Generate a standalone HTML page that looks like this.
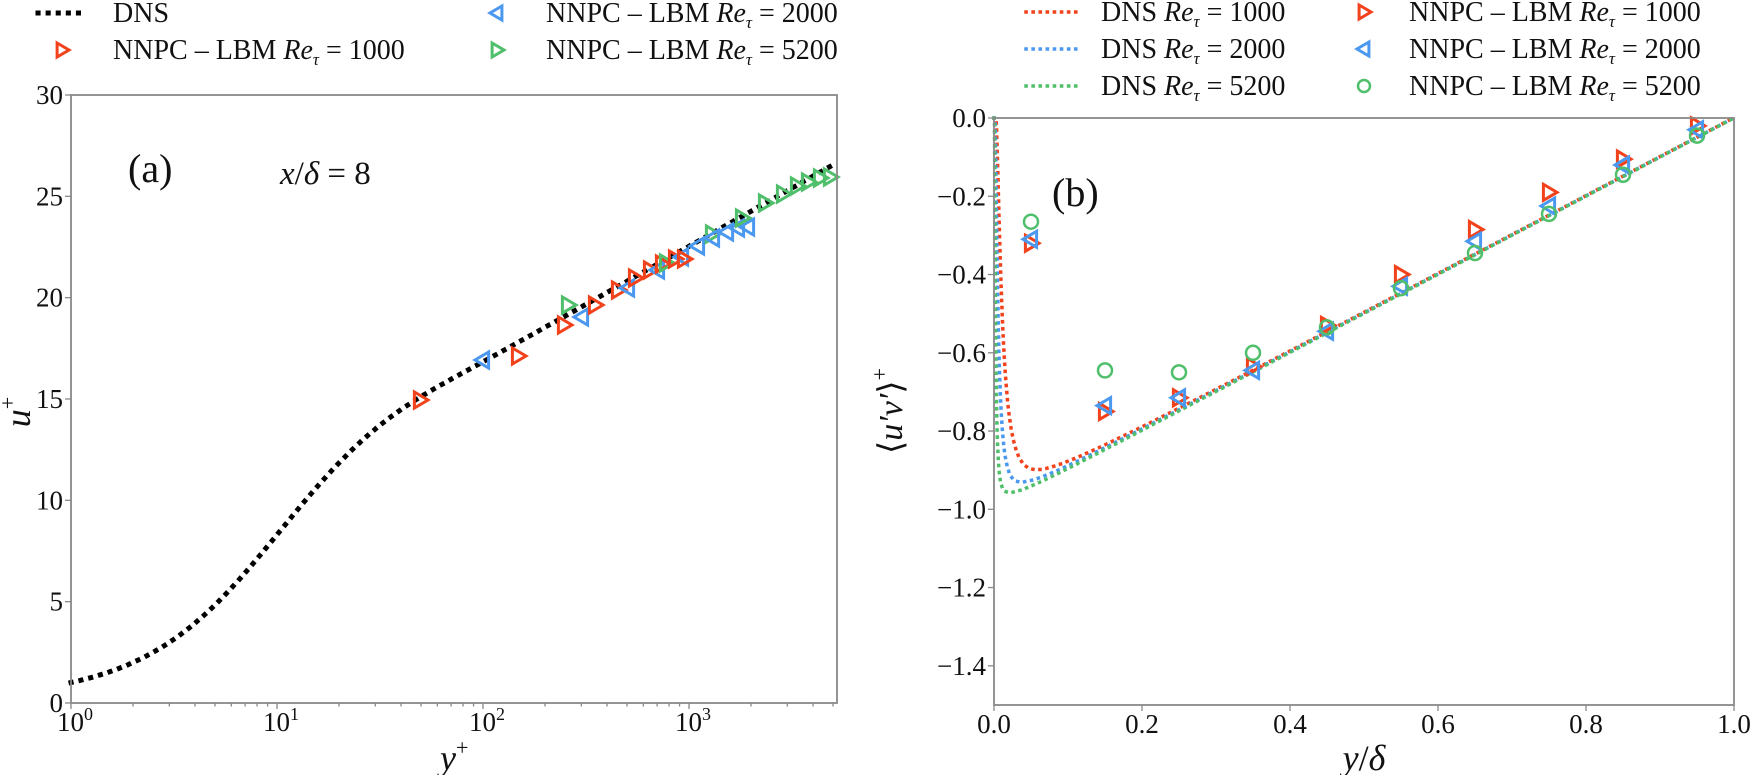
<!DOCTYPE html>
<html><head><meta charset="utf-8"><style>
body{margin:0;background:#fff}
svg,svg text,svg tspan{font-family:"Liberation Serif","DejaVu Serif",serif}
</style></head><body>
<svg id="s" width="1750" height="775" xmlns="http://www.w3.org/2000/svg" font-family="Liberation Serif, DejaVu Serif, serif"></svg>
<script>
const S=document.getElementById('s');let h='';
const R='#f2421c',B='#4a98f0',G='#4fbf6b';
const FF='font-family="Liberation Serif, DejaVu Serif, serif" fill="#111"';
const L={x0:71,x1:837,y0:95,y1:703};
const lx=v=>L.x0+Math.log10(v)*206, ly=u=>L.y1-u*(608/30);
function reich(y){return 2.5*Math.log(1+0.4*y)+7.8*(1-Math.exp(-y/11)-y/11*Math.exp(-y/3));}
function dreich(y){return 1/(1+0.4*y)+7.8*(Math.exp(-y/11)/11-Math.exp(-y/3)/11+y/33*Math.exp(-y/3));}
let p='';for(let i=0;i<=400;i++){const lv=i/400*3.72,v=Math.pow(10,lv);let u=reich(v)-0.25*Math.min(1,lv/2);p+=(i?'L':'M')+lx(v).toFixed(1)+','+ly(u).toFixed(1);}
h+=`<path d="${p}" fill="none" stroke="#000" stroke-width="5" stroke-dasharray="0.1 10" stroke-linecap="square"/>`;
function tri(x,y,c,dir,s=8){const d=dir>0?`M${x-s*0.7},${y-s} L${x+s},${y} L${x-s*0.7},${y+s}Z`:`M${x+s*0.7},${y-s} L${x-s},${y} L${x+s*0.7},${y+s}Z`;return `<path d="${d}" fill="none" stroke="${c}" stroke-width="3"/>`;}
const lm=[[R,1,420,400],[B,-1,483,360],[R,1,518,356],[R,1,564,325],[G,1,568,305],[B,-1,582,317],[R,1,595,305],[R,1,618,290],[B,-1,628,288],[R,1,635,278],[R,1,650,270],[B,-1,658,270],[R,1,662,264],[G,1,666,263],[R,1,675,259],[B,-1,682,257],[R,1,684,259],[B,-1,698,246],[G,1,712,234],[B,-1,713,238],[B,-1,727,232],[B,-1,738,228],[B,-1,748,227],[G,1,742,218],[G,1,765,203],[G,1,783,194],[G,1,797,186],[G,1,808,182],[G,1,820,178],[G,1,830,177]];
lm.forEach(m=>h+=tri(m[2],m[3],m[0],m[1]));
h+=`<rect x="${L.x0}" y="${L.y0}" width="${L.x1-L.x0}" height="${L.y1-L.y0}" fill="none" stroke="#888" stroke-width="1.8"/>`;
for(let d=0;d<4;d++){for(let k=1;k<10;k++){const v=Math.pow(10,d)*k;if(v>5250)break;const x=lx(v);h+=`<line x1="${x}" y1="${L.y1}" x2="${x}" y2="${L.y1+(k==1?6:3.5)}" stroke="#888" stroke-width="1.3"/>`;}
h+=`<text ${FF} x="${lx(Math.pow(10,d))-14}" y="731" font-size="27">10<tspan font-size="18" dy="-11">${d}</tspan></text>`;}
for(let u=0;u<=30;u+=5){const y=ly(u);h+=`<line x1="${L.x0-6}" y1="${y}" x2="${L.x0}" y2="${y}" stroke="#888" stroke-width="1.3"/><text ${FF} x="63" y="${y+9}" font-size="27" text-anchor="end">${u}</text>`;}
h+=`<text ${FF} x="440" y="770" font-size="36" font-style="italic">y<tspan font-size="22" dy="-15" font-style="normal">+</tspan></text>`;
h+=`<text ${FF} transform="translate(30,412) rotate(-90)" font-size="36" font-style="italic" text-anchor="middle">u<tspan font-size="22" dy="-15" font-style="normal">+</tspan></text>`;
h+=`<text ${FF} x="128" y="182" font-size="40">(a)</text><text ${FF} x="280" y="184" font-size="33"><tspan font-style="italic">x</tspan>/<tspan font-style="italic">δ</tspan> = 8</text>`;
const P={x0:994,x1:1734,y0:118,y1:705};
const rx=v=>P.x0+v*740, ry=v=>P.y0-v*391.3;
[[R,1000],[B,2000],[G,5200]].forEach(([c,Re])=>{let q='';for(let i=0;i<=600;i++){const t=i/600;const y=Math.pow(t,3);const yp=y*Re;let v=-(1-y)+dreich(yp)*(1-y*0.6);if(v>0)v=0;q+=(i?'L':'M')+rx(y).toFixed(1)+','+ry(v).toFixed(1);}
h+=`<path d="${q}" fill="none" stroke="${c}" stroke-width="3.5" stroke-dasharray="0.1 7" stroke-linecap="square"/>`;});
const rd={R:[-0.32,-0.75,-0.715,-0.635,-0.53,-0.40,-0.285,-0.19,-0.105,-0.02],B:[-0.31,-0.735,-0.715,-0.645,-0.545,-0.43,-0.315,-0.225,-0.12,-0.03],G:[-0.265,-0.645,-0.65,-0.60,-0.535,-0.435,-0.345,-0.245,-0.145,-0.045]};
for(let i=0;i<10;i++){const x=rx(0.05+0.1*i);h+=tri(x,ry(rd.R[i]),R,1);h+=tri(x,ry(rd.B[i]),B,-1);h+=`<circle cx="${x}" cy="${ry(rd.G[i])}" r="7" fill="none" stroke="${G}" stroke-width="2.5"/>`;}
h+=`<rect x="${P.x0}" y="${P.y0}" width="${P.x1-P.x0}" height="${P.y1-P.y0}" fill="none" stroke="#888" stroke-width="1.8"/>`;
for(let i=0;i<=5;i++){const x=rx(i*0.2);h+=`<line x1="${x}" y1="${P.y1}" x2="${x}" y2="${P.y1+6}" stroke="#888" stroke-width="1.3"/><text ${FF} x="${x}" y="733" font-size="27" text-anchor="middle">${(i*0.2).toFixed(1)}</text>`;}
for(let i=0;i<=7;i++){const v=-i*0.2,y=ry(v);h+=`<line x1="${P.x0-6}" y1="${y}" x2="${P.x0}" y2="${y}" stroke="#888" stroke-width="1.3"/><text ${FF} x="${P.x0-8}" y="${y+9}" font-size="27" text-anchor="end">${i?'−':''}${(i*0.2).toFixed(1)}</text>`;}
h+=`<text ${FF} x="1364" y="770" font-size="36" text-anchor="middle"><tspan font-style="italic">y</tspan>/<tspan font-style="italic">δ</tspan></text>`;
h+=`<text ${FF} transform="translate(902,411) rotate(-90)" font-size="34" text-anchor="middle">⟨<tspan font-style="italic">u′v′</tspan>⟩<tspan font-size="22" dy="-15">+</tspan></text>`;
h+=`<text ${FF} x="1052" y="206" font-size="40">(b)</text>`;
const ret=n=>`NNPC – LBM <tspan font-style="italic">Re</tspan><tspan font-size="17" dy="6" font-style="italic">τ</tspan><tspan dy="-6"> = ${n}</tspan>`;
const dns=n=>`DNS <tspan font-style="italic">Re</tspan><tspan font-size="17" dy="6" font-style="italic">τ</tspan><tspan dy="-6"> = ${n}</tspan>`;
h+=`<line x1="38" y1="13" x2="88" y2="13" stroke="#000" stroke-width="5" stroke-dasharray="0.1 10" stroke-linecap="square"/><text ${FF} x="113" y="22" font-size="28">DNS</text>`;
h+=tri(62,50,R,1,7)+`<text ${FF} x="113" y="59" font-size="28">${ret(1000)}</text>`;
h+=tri(497,13,B,-1,7)+`<text ${FF} x="546" y="22" font-size="28">${ret(2000)}</text>`;
h+=tri(497,50,G,1,7)+`<text ${FF} x="546" y="59" font-size="28">${ret(5200)}</text>`;
[[R,1000,12],[B,2000,49],[G,5200,86]].forEach(([c,n,y])=>{h+=`<line x1="1026" y1="${y}" x2="1076" y2="${y}" stroke="${c}" stroke-width="3.5" stroke-dasharray="0.1 7" stroke-linecap="square"/><text ${FF} x="1101" y="${y+9}" font-size="28">${dns(n)}</text><text ${FF} x="1409" y="${y+9}" font-size="28">${ret(n)}</text>`;});
h+=tri(1364,12,R,1,7)+tri(1364,49,B,-1,7)+`<circle cx="1364" cy="86" r="6" fill="none" stroke="${G}" stroke-width="2.5"/>`;
S.innerHTML=h;
</script>
</body></html>
